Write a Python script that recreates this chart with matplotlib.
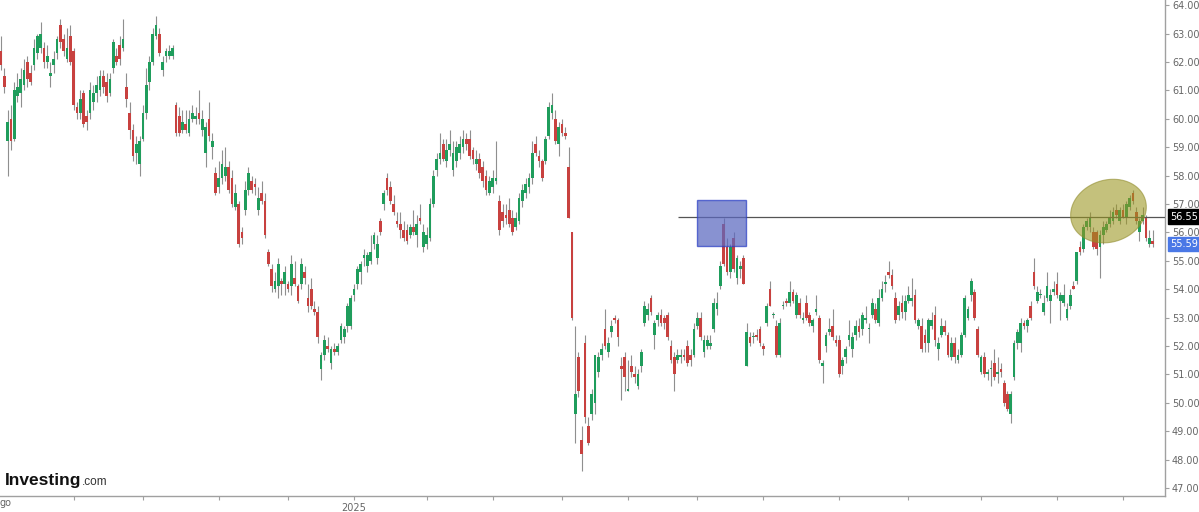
import matplotlib
matplotlib.use("Agg")
import matplotlib.pyplot as plt
import numpy as np
from matplotlib.patches import Rectangle, Polygon
from matplotlib.transforms import blended_transform_factory

opens = [
    62.4, 61.5, 59.2, 60.0, 59.3, 60.8, 60.9, 61.2, 62.0, 61.6,
    61.9, 62.3, 62.5, 62.5, 62.0, 61.5, 61.9, 62.3, 63.3, 62.8,
    62.1, 62.9, 62.4, 60.4, 60.2, 60.9, 60.1, 60.2, 60.6, 60.9,
    61.0, 61.5, 61.3, 60.9, 61.8, 62.2, 62.6, 62.5, 61.1, 60.2,
    59.6, 58.8, 58.4, 59.3, 60.2, 61.3, 62.0, 62.9, 63.0, 61.7,
    62.2, 62.2, 62.2, 60.5, 60.1, 59.6, 59.8, 59.5, 60.0, 60.0,
    60.2, 59.6, 58.8, 60.0, 59.0, 58.1, 57.6, 57.9, 58.0, 58.3,
    57.9, 56.9, 57.0, 56.0, 56.8, 57.5, 57.8, 57.7, 56.8, 57.4,
    57.1, 55.3, 54.7, 54.0, 54.1, 54.3, 54.2, 54.2, 54.1, 54.4,
    54.1, 54.2, 54.6, 53.7, 54.0, 53.3, 53.2, 51.2, 51.7, 52.0,
    51.4, 51.9, 51.8, 52.2, 52.3, 52.7, 52.7, 53.8, 54.2, 54.6,
    55.1, 54.8, 55.0, 55.6, 55.1, 56.4, 57.0, 57.9, 57.6, 57.0,
    56.4, 56.3, 56.1, 56.1, 55.9, 56.2, 55.9, 56.5, 55.5, 55.6,
    55.8, 57.0, 58.2, 58.6, 59.1, 58.5, 58.9, 58.2, 58.5, 58.8,
    59.0, 59.3, 59.3, 58.9, 58.4, 58.6, 58.3, 58.0, 57.4, 57.6,
    57.8, 57.1, 56.7, 56.6, 56.8, 56.5, 56.2, 56.4, 57.1, 57.4,
    57.6, 57.9, 59.1, 58.7, 58.5, 58.5, 59.4, 60.2, 60.0, 59.1,
    59.8, 59.5, 58.3, 56.0, 49.6, 51.6, 48.7, 52.1, 49.2, 49.6,
    50.0, 51.1, 51.7, 52.6, 51.8, 52.5, 53.0, 52.9, 51.3, 51.6,
    50.4, 51.3, 51.0, 50.6, 51.3, 52.8, 53.1, 53.7, 52.4, 52.9,
    53.1, 53.0, 53.1, 52.0, 51.6, 51.5, 51.6, 51.7, 52.0, 51.7,
    51.7, 52.7, 53.0, 51.8, 52.0, 52.0, 52.6, 53.3, 54.1, 56.3,
    55.5, 54.6, 55.8, 54.4, 54.7, 55.1, 51.3, 52.3, 52.3, 52.4,
    52.6, 52.0, 52.8, 54.0, 53.1, 52.7, 51.7, 53.4, 53.6, 53.5,
    53.9, 53.1, 53.5, 52.9, 53.5, 53.1, 52.7, 53.2, 53.0, 51.3,
    52.0, 52.5, 52.7, 52.2, 52.2, 51.3, 51.6, 52.2, 51.9, 52.4,
    52.7, 52.6, 52.9, 52.6, 53.1, 53.3, 52.8, 53.7, 54.2, 54.6,
    54.5, 53.7, 53.1, 53.5, 53.2, 53.6, 53.6, 53.8, 52.7, 52.7,
    52.4, 52.1, 52.7, 53.1, 51.9, 52.4, 52.7, 52.4, 51.6, 52.1,
    51.5, 51.7, 52.4, 53.0, 53.8, 53.9, 52.6, 51.1, 51.6, 51.0,
    51.2, 51.4, 51.0, 51.2, 50.7, 50.3, 49.6, 50.9, 52.1, 52.1,
    52.8, 52.7, 53.4, 54.6, 53.6, 53.8, 53.2, 53.7, 53.6, 53.9,
    54.2, 53.6, 53.5, 53.0, 53.4, 54.1, 54.3, 55.5, 55.4, 56.2,
    56.2, 56.0, 56.0, 55.5, 55.9, 56.1, 56.3, 56.4, 56.8, 56.4,
    56.8, 56.5, 56.9, 57.4, 56.7, 56.0, 56.4, 56.5, 55.6, 55.7,
]
highs = [
    62.9, 61.8, 60.3, 60.5, 61.3, 61.6, 61.8, 62.1, 62.2, 61.9,
    62.8, 63.0, 63.4, 62.7, 62.6, 62.0, 62.4, 62.9, 63.5, 63.0,
    63.2, 63.3, 62.5, 60.6, 61.0, 61.0, 60.3, 61.3, 61.2, 61.5,
    61.7, 61.7, 61.6, 61.6, 62.8, 62.5, 62.9, 63.5, 61.6, 60.6,
    59.8, 59.4, 59.4, 60.5, 61.8, 62.2, 63.2, 63.6, 63.2, 62.2,
    62.5, 62.6, 62.6, 60.6, 60.4, 60.3, 60.3, 60.3, 60.5, 60.4,
    61.0, 60.3, 59.9, 60.6, 59.5, 58.3, 58.5, 58.9, 59.0, 58.5,
    58.2, 57.7, 57.1, 56.2, 57.8, 58.3, 58.0, 57.9, 57.6, 57.8,
    57.4, 55.4, 54.9, 54.6, 55.1, 54.4, 54.8, 54.3, 55.2, 55.0,
    54.2, 55.1, 54.8, 54.2, 54.4, 53.6, 53.4, 51.8, 52.4, 52.3,
    52.0, 52.1, 52.1, 52.8, 52.7, 53.5, 53.8, 54.2, 54.8, 55.0,
    55.4, 55.3, 55.9, 56.0, 55.9, 56.5, 57.5, 58.1, 57.8, 57.3,
    56.7, 56.7, 56.4, 56.3, 56.3, 56.8, 56.6, 57.0, 56.3, 56.2,
    57.2, 58.2, 58.8, 59.5, 59.3, 59.3, 59.6, 59.2, 59.2, 59.4,
    59.6, 59.5, 59.6, 59.0, 58.9, 58.8, 58.5, 58.2, 58.0, 58.2,
    59.2, 57.3, 57.0, 57.0, 57.2, 56.8, 56.7, 57.4, 57.7, 57.9,
    58.1, 59.2, 59.4, 58.9, 58.6, 59.4, 60.6, 60.9, 60.3, 59.9,
    60.0, 59.7, 59.0, 56.0, 52.7, 51.8, 49.2, 52.4, 49.5, 50.5,
    51.7, 51.8, 52.1, 53.3, 52.3, 52.9, 53.1, 53.0, 51.6, 51.8,
    51.5, 51.7, 51.3, 51.2, 51.9, 53.6, 53.5, 53.8, 52.9, 53.2,
    53.3, 53.1, 53.2, 52.2, 51.8, 51.9, 51.9, 51.9, 52.2, 51.9,
    52.8, 53.2, 53.2, 52.4, 52.4, 52.4, 53.7, 53.9, 55.0, 56.5,
    55.8, 55.6, 56.0, 55.2, 55.0, 55.2, 52.8, 52.5, 52.5, 52.6,
    52.7, 52.1, 53.5, 54.3, 53.2, 52.9, 53.0, 53.6, 53.7, 54.3,
    54.0, 53.9, 53.7, 53.2, 53.8, 53.2, 53.0, 53.8, 53.1, 51.5,
    52.5, 53.0, 53.3, 52.4, 52.4, 51.6, 52.0, 52.9, 52.5, 52.9,
    53.0, 53.2, 53.4, 52.8, 53.7, 53.5, 54.0, 54.3, 54.5, 55.0,
    54.7, 53.9, 53.6, 53.8, 53.8, 54.1, 54.4, 54.0, 53.0, 53.0,
    52.6, 53.0, 53.2, 53.4, 52.3, 53.0, 52.9, 52.5, 52.3, 52.3,
    51.9, 52.5, 53.8, 53.4, 54.4, 54.0, 52.7, 51.7, 51.8, 51.2,
    51.5, 51.9, 51.6, 51.4, 50.8, 50.4, 50.4, 52.2, 52.6, 53.0,
    52.9, 53.0, 53.6, 55.1, 54.1, 54.0, 53.8, 54.6, 54.0, 54.3,
    54.6, 53.9, 54.2, 53.5, 54.0, 54.3, 55.3, 55.7, 56.3, 56.5,
    56.7, 56.2, 56.1, 56.1, 56.4, 56.4, 56.8, 56.9, 57.0, 56.9,
    57.0, 57.1, 57.3, 57.5, 56.9, 56.5, 56.9, 56.6, 56.1, 56.1,
]
lows = [
    61.7, 60.9, 58.0, 58.9, 59.2, 60.6, 60.4, 61.0, 61.1, 61.2,
    61.7, 62.1, 62.3, 61.8, 61.8, 61.1, 61.6, 62.1, 62.5, 62.2,
    62.0, 61.9, 60.3, 60.0, 60.0, 59.7, 59.6, 60.0, 60.3, 60.6,
    60.8, 60.9, 60.6, 60.8, 61.6, 61.9, 61.9, 62.4, 60.4, 59.3,
    58.5, 58.4, 58.0, 59.2, 60.0, 61.0, 61.9, 62.8, 62.2, 61.5,
    62.0, 62.1, 62.1, 59.4, 59.4, 59.5, 59.5, 59.4, 59.9, 59.8,
    59.8, 59.4, 58.3, 59.2, 58.6, 57.3, 57.4, 57.7, 57.8, 57.4,
    56.9, 56.8, 55.5, 55.6, 56.6, 57.3, 57.4, 57.3, 56.6, 57.0,
    55.8, 54.8, 53.9, 53.9, 53.7, 53.8, 53.8, 53.9, 53.8, 54.1,
    53.5, 54.0, 54.2, 53.2, 53.3, 53.1, 52.1, 50.8, 51.5, 51.8,
    51.2, 51.7, 51.7, 52.1, 52.1, 52.5, 52.6, 53.6, 54.0, 54.2,
    54.8, 54.6, 54.9, 55.4, 54.9, 55.9, 56.8, 57.3, 57.0, 56.6,
    56.2, 55.8, 55.7, 55.6, 55.8, 55.9, 55.5, 56.3, 55.3, 55.4,
    55.7, 56.9, 58.0, 58.4, 58.5, 58.3, 58.7, 58.0, 58.3, 58.6,
    58.8, 58.9, 58.6, 58.4, 58.2, 57.9, 57.6, 57.3, 57.3, 57.4,
    57.7, 55.9, 56.2, 56.3, 56.2, 55.9, 56.1, 56.3, 56.9, 57.2,
    57.4, 57.7, 58.7, 58.3, 57.8, 58.4, 59.3, 60.0, 59.1, 58.7,
    59.4, 59.3, 56.5, 52.9, 48.6, 50.2, 47.6, 49.3, 48.5, 49.4,
    49.6, 50.9, 51.5, 51.9, 51.6, 52.3, 52.8, 52.0, 50.1, 50.4,
    50.4, 50.9, 50.7, 50.5, 51.1, 52.7, 52.9, 53.1, 51.9, 52.7,
    52.7, 52.6, 52.2, 51.4, 50.4, 51.4, 51.4, 51.5, 51.3, 51.3,
    51.6, 52.6, 52.2, 51.6, 51.9, 51.9, 52.5, 53.1, 54.0, 54.8,
    54.5, 54.4, 54.6, 54.2, 54.4, 54.2, 51.3, 52.0, 52.1, 52.2,
    52.0, 51.7, 52.7, 53.4, 53.0, 51.6, 51.6, 53.3, 53.4, 53.4,
    53.5, 53.0, 53.0, 52.8, 52.9, 52.7, 52.5, 53.1, 51.4, 50.7,
    51.8, 52.4, 52.2, 52.0, 50.9, 51.0, 51.4, 52.0, 51.6, 52.2,
    52.3, 52.4, 52.8, 52.1, 53.0, 52.8, 52.7, 53.6, 53.9, 54.4,
    54.0, 52.8, 52.9, 53.0, 52.9, 53.5, 53.4, 52.8, 52.6, 51.8,
    51.8, 51.8, 52.6, 52.0, 51.5, 52.3, 52.4, 51.6, 51.5, 51.4,
    51.4, 51.6, 52.3, 52.9, 53.6, 52.9, 51.6, 51.0, 50.9, 50.8,
    50.6, 50.8, 50.7, 50.9, 49.9, 49.7, 49.3, 50.8, 51.9, 51.8,
    52.6, 52.5, 52.9, 54.0, 53.5, 53.7, 53.1, 53.6, 52.8, 53.8,
    53.7, 52.9, 53.4, 52.9, 53.3, 54.0, 54.2, 55.2, 55.3, 56.1,
    56.0, 55.4, 55.2, 54.4, 55.6, 56.0, 56.2, 56.3, 56.5, 56.3,
    56.5, 56.3, 56.8, 57.0, 56.3, 55.7, 56.3, 55.7, 55.5, 55.5,
]
closes = [
    61.9, 61.1, 59.9, 59.2, 61.0, 61.1, 61.4, 61.7, 61.4, 61.3,
    62.5, 62.9, 63.0, 62.0, 62.2, 61.6, 62.1, 62.8, 62.7, 62.4,
    62.5, 62.0, 60.5, 60.2, 60.7, 59.8, 59.9, 61.0, 60.9, 61.2,
    61.5, 61.1, 60.8, 61.4, 62.7, 62.0, 62.1, 62.8, 60.7, 59.6,
    58.7, 59.1, 59.2, 60.2, 61.2, 62.0, 63.0, 63.3, 62.3, 62.0,
    62.4, 62.4, 62.5, 59.5, 59.5, 59.9, 59.6, 60.0, 60.2, 60.1,
    60.0, 60.0, 59.7, 59.4, 59.2, 57.4, 57.9, 58.4, 58.3, 57.5,
    57.0, 57.4, 55.6, 55.8, 57.5, 58.1, 57.5, 57.6, 57.2, 57.1,
    55.9, 54.9, 54.1, 54.3, 54.9, 54.2, 54.6, 54.0, 54.9, 54.2,
    53.6, 54.9, 54.4, 53.4, 53.4, 53.2, 52.3, 51.7, 52.2, 51.9,
    51.9, 51.8, 52.0, 52.7, 52.6, 53.4, 53.7, 54.0, 54.7, 54.9,
    55.2, 55.2, 55.3, 55.9, 55.6, 56.0, 57.4, 57.5, 57.1, 56.7,
    56.3, 56.1, 55.8, 55.7, 56.2, 56.0, 56.3, 56.4, 56.0, 55.9,
    57.0, 58.0, 58.6, 58.8, 58.6, 58.9, 59.1, 58.8, 59.0, 59.1,
    59.3, 59.1, 58.7, 58.6, 58.6, 58.1, 57.8, 57.5, 57.8, 57.9,
    57.9, 56.1, 56.4, 56.5, 56.3, 56.0, 56.5, 57.2, 57.5, 57.7,
    57.9, 58.8, 58.8, 58.5, 57.9, 59.3, 60.4, 60.5, 59.2, 59.7,
    59.5, 59.4, 56.5, 53.0, 50.3, 50.4, 48.2, 49.5, 48.6, 50.3,
    51.7, 51.6, 51.9, 52.0, 52.1, 52.7, 52.9, 52.3, 51.2, 50.9,
    50.5, 51.1, 50.9, 51.0, 51.8, 53.4, 53.3, 53.2, 52.8, 53.1,
    52.8, 52.8, 52.3, 51.5, 51.0, 51.7, 51.7, 51.6, 51.4, 51.5,
    52.6, 53.0, 52.3, 52.2, 52.2, 52.1, 53.5, 53.5, 54.8, 54.9,
    54.6, 55.5, 54.7, 55.1, 54.8, 54.2, 52.5, 52.1, 52.3, 52.3,
    52.1, 51.9, 53.4, 53.4, 53.1, 51.7, 52.8, 53.4, 53.5, 53.9,
    53.6, 53.8, 53.1, 53.0, 53.0, 52.8, 52.9, 53.3, 51.5, 51.4,
    52.4, 52.6, 52.3, 52.1, 51.0, 51.5, 51.9, 52.4, 52.3, 52.7,
    52.5, 53.1, 53.0, 52.6, 53.5, 52.9, 53.7, 54.0, 54.2, 54.5,
    54.1, 52.9, 53.4, 53.2, 53.6, 53.8, 53.7, 52.9, 52.9, 51.9,
    52.1, 52.9, 52.9, 52.2, 52.1, 52.7, 52.5, 51.7, 52.1, 51.6,
    51.7, 52.4, 53.7, 53.3, 54.3, 53.0, 51.7, 51.6, 51.0, 51.1,
    51.2, 50.9, 51.1, 51.1, 50.0, 49.8, 50.3, 52.1, 52.5, 52.8,
    52.7, 52.9, 53.0, 54.1, 53.9, 53.8, 53.5, 54.1, 53.8, 54.0,
    53.8, 53.8, 53.8, 53.3, 53.8, 54.0, 55.3, 55.3, 56.2, 56.4,
    56.5, 55.5, 55.4, 55.9, 56.2, 56.3, 56.5, 56.7, 56.6, 56.8,
    56.5, 57.0, 57.2, 57.1, 56.4, 56.4, 56.6, 55.8, 55.8, 55.59,
]

# first trading day of each month (candle index); only January shows a label
month_idx = [22, 43, 66, 87, 107, 129, 149, 170, 190, 211, 231, 254, 275, 297, 320, 340]
month_lbl = ['', '', '', '', '2025', '', '', '', '', '', '', '', '', '', '', '']

level = 56.55
last = closes[-1]

o = np.array(opens)
h = np.array(highs)
l = np.array(lows)
c = np.array(closes)
x = np.arange(len(c))
up = c >= o

fig = plt.figure(figsize=(11.99, 5.12), dpi=100)
ax = fig.add_axes([0, 16 / 512, 1165 / 1199, 496 / 512])
px = 3.3    # pixels per candle
ax.set_xlim(-0.3, 1164 / px)
ax.set_ylim(46.72, 64.18)

green = '#1f9d5c'
red = '#c8413f'
ax.vlines(x, l, h, color='#8f8f8f', lw=0.8, zorder=2)
body = np.maximum(np.abs(c - o), 0.04)
ax.bar(x, body, bottom=np.minimum(o, c), width=0.8,
       color=np.where(up, green, red), lw=0, zorder=3)

# support/resistance level
ax.hlines(level, 205.2, 1164 / px, color='#555555', lw=0.9, zorder=4)

# highlighted zones
ax.add_patch(Rectangle((210.9, 55.51), 14.9, 1.62, facecolor='#5b68c0',
                       edgecolor='#2b3fc4', lw=1.0, alpha=0.72, zorder=5))
t = np.linspace(0, 2 * np.pi, 120)
a, b, ang = 38.5, 31.0, np.radians(18)
ex = 335.6 + (a * np.cos(t) * np.cos(ang) - b * np.sin(t) * np.sin(ang)) / px
ey = 56.75 + (a * np.cos(t) * np.sin(ang) + b * np.sin(t) * np.cos(ang)) / 28.4
ax.add_patch(Polygon(np.column_stack([ex, ey]), closed=True, facecolor='#9a951e',
                     edgecolor='#8f8a2a', lw=0.8, alpha=0.58, zorder=5))

for s in ['left', 'top']:
    ax.spines[s].set_visible(False)
for s in ['right', 'bottom']:
    ax.spines[s].set_color('#a0a0a0')
    ax.spines[s].set_linewidth(1.0)

ax.yaxis.tick_right()
ax.set_yticks(np.arange(47, 65, 1))
ax.set_yticklabels([f'{v:.2f}' for v in np.arange(47, 65, 1)])
ax.tick_params(axis='y', length=3, color='#a0a0a0', labelcolor='#666666',
               labelsize=7, pad=2)
ax.set_xticks(month_idx)
ax.set_xticklabels(month_lbl)
ax.tick_params(axis='x', length=3, color='#a0a0a0', labelcolor='#666666',
               labelsize=7, pad=2)

tr = blended_transform_factory(ax.transAxes, ax.transData)
ax.text(1.0045, level, f'{level:.2f}', transform=tr, ha='left', va='center',
        fontsize=7, color='white', zorder=10,
        bbox=dict(boxstyle='square,pad=0.25', fc='black', ec='black'))
ax.text(1.0045, last, f'{last:.2f}', transform=tr, ha='left', va='center',
        fontsize=7, color='white', zorder=10,
        bbox=dict(boxstyle='square,pad=0.25', fc='#4a78e6', ec='#4a78e6'))

fig.text(0.0, 4 / 512, 'go', fontsize=7, color='#666666', ha='left', va='bottom')
fig.text(5 / 1199, 27 / 512, 'Investing', fontsize=12.5, fontweight='bold',
         family='Liberation Sans', color='#111111', ha='left', va='baseline')
fig.text(82 / 1199, 27 / 512, '.com', fontsize=8.5, family='Liberation Sans',
         color='#333333', ha='left', va='baseline')

fig.savefig('out.png', dpi=100)
